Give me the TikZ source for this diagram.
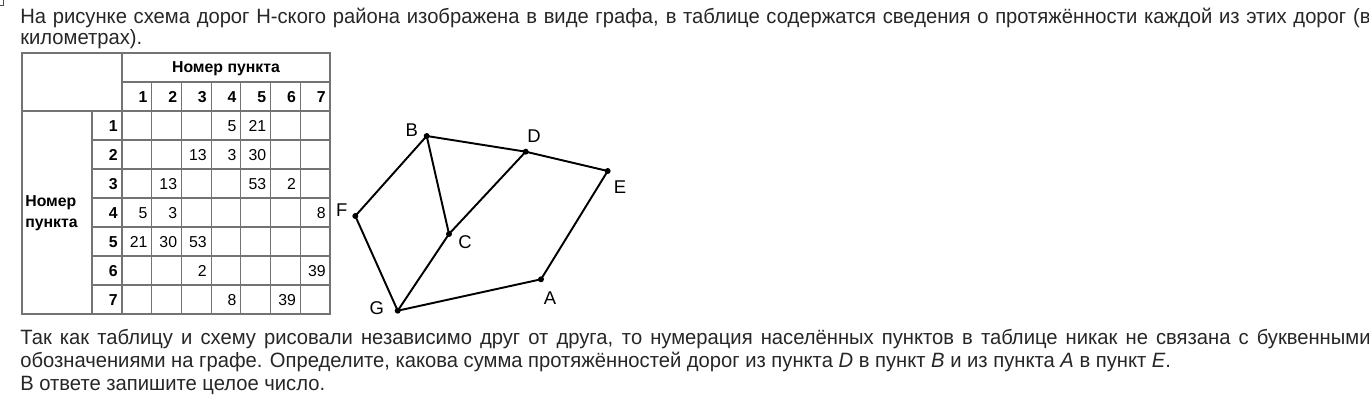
\documentclass[tikz,border=0pt]{standalone}
\usepackage{fontspec}
\setmainfont{Liberation Sans}[FakeStretch=0.974]
\newfontfamily\tabfont{Liberation Sans}
\usetikzlibrary{positioning}

\begin{document}
\begin{tikzpicture}[x=0.02cm, y=-0.02cm,
  txt/.style={anchor=base west, inner sep=0, text=black!85, font=\fontsize{11.8}{14}\selectfont},
  grid/.style={draw=black!55, line width=0.6pt},
  num/.style={anchor=base east, inner sep=0, font=\tabfont\fontsize{9}{11}\selectfont},
  hdr/.style={num, font=\tabfont\bfseries\fontsize{9}{11}\selectfont},
  town/.style={circle, fill=black, inner sep=0, minimum size=3.4pt},
  lbl/.style={inner sep=0, font=\tabfont\fontsize{10.5}{12}\selectfont},
  road/.style={line width=1.1pt}
]
  \clip (0,0) rectangle (1369,401);

  % corner mark
  \draw[black!70, line width=0.5pt] (0,5.5) -- (3.2,5.5) -- (3.2,0);

  % question text (first lines justified)
  \node[txt] (q1) at (20,24) {\makebox[768.5pt][s]{На рисунке схема дорог Н-ского района изображена в виде графа, в таблице содержатся сведения о протяжённости каждой из этих дорог (в}};
  \node[txt] (q2) at (20,45) {километрах).};
  \node[txt] (t1) at (20,345) {\makebox[768.5pt][s]{Так как таблицу и схему рисовали независимо друг от друга, то нумерация населённых пунктов в таблице никак не связана с буквенными}};
  \node[txt] (t2) at (20,368) {обозначениями на графе. Определите, какова сумма протяжённостей дорог из пункта \textit{D} в пункт \textit{B} и из пункта \textit{A} в пункт \textit{E}.};
  \node[txt] (t3) at (20,391) {В ответе запишите целое число.};

  % table
  \draw[grid] (22,53) rectangle (330,314);
  \draw[grid] (122,82) -- (330,82);
  \draw[grid] (22,111) -- (330,111);
  \foreach \r in {1,...,6}
    \draw[grid] (92,{111+29*\r}) -- (330,{111+29*\r});
  \draw[grid] (92,111) -- (92,314);
  \draw[grid] (122,53) -- (122,314);
  \foreach \c in {1,...,6}
    \draw[grid] ({122+29.71*\c},82) -- ({122+29.71*\c},314);

  \node[hdr, anchor=base] (top) at (226,73) {Номер пункта};
  \node[hdr, anchor=base west, align=left] (side) at (25,228) {Номер\\[1pt]пункта};
  \foreach \c in {1,...,7}
    \node[hdr] (h\c) at ({122+29.71*\c-4},103) {\c};
  \foreach \r in {1,...,7}
    \node[hdr] (r\r) at (118,{111+29*\r-8}) {\r};
  \foreach \r/\c/\v in {1/4/5, 1/5/21, 2/3/13, 2/4/3, 2/5/30, 3/2/13, 3/5/53, 3/6/2,
                        4/1/5, 4/2/3, 4/7/8, 5/1/21, 5/2/30, 5/3/53, 6/3/2, 6/7/39,
                        7/4/8, 7/6/39}
    \node[num] (c\r\c) at ({122+29.71*\c-4},{111+29*\r-8}) {\v};

  % graph
  \node[town] (B) at (426.7,136) {};
  \node[town] (D) at (525.7,151.7) {};
  \node[town] (E) at (607.7,171) {};
  \node[town] (F) at (355.3,216) {};
  \node[town] (C) at (449,234) {};
  \node[town] (A) at (541,279.3) {};
  \node[town] (G) at (397.7,310.7) {};

  \draw[road] (B.center) -- (D.center) -- (E.center) -- (A.center) -- (G.center)
    -- (F.center) -- (B.center) -- (C.center) -- (G.center);
  \draw[road] (D.center) -- (C.center);

  \node[lbl] (lB) at (411.7,130) {B};
  \node[lbl] (lD) at (534,136) {D};
  \node[lbl] (lE) at (620,187) {E};
  \node[lbl] (lF) at (341.7,210) {F};
  \node[lbl] (lC) at (465,241.7) {C};
  \node[lbl] (lA) at (550,298) {A};
  \node[lbl] (lG) at (376.7,308) {G};
\end{tikzpicture}
\end{document}
